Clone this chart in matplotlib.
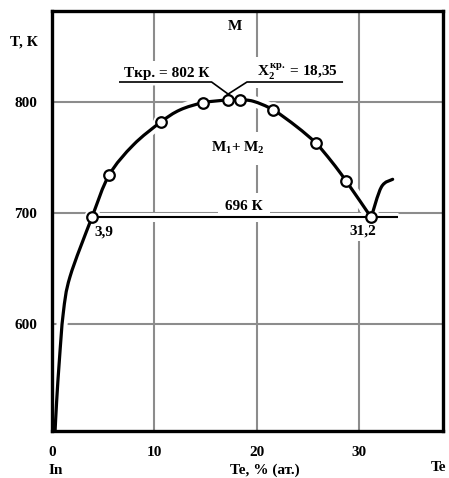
import numpy as np
import matplotlib
matplotlib.use("Agg")
import matplotlib.pyplot as plt
from matplotlib.path import Path
from matplotlib.patches import PathPatch

plt.rcParams["font.family"] = ["Liberation Serif", "DejaVu Serif"]
plt.rcParams["font.weight"] = "bold"
plt.rcParams["mathtext.fontset"] = "custom"
plt.rcParams["mathtext.rm"] = "Liberation Serif:bold"
plt.rcParams["mathtext.it"] = "Liberation Serif:bold"
plt.rcParams["mathtext.bf"] = "Liberation Serif:bold"

# --- In–Te: miscibility gap of the melt -------------------------------------
# experimental points (Te, at.%; T, K)
exp_te = [3.9, 5.57, 10.63, 14.79, 17.2, 18.35, 21.63, 25.8, 28.74, 31.2]
exp_t = [696, 734, 782, 799.5, 802, 802, 793, 763, 729, 696]

# traced boundary of the two-liquid region (M1 + M2)
dome_te = [0.30, 0.46, 0.72, 1.10, 1.76, 3.9, 5.57, 7.95, 10.63, 12.51,
           14.79, 17.2, 18.35, 19.68, 21.63, 23.92, 25.8, 27.34, 28.74, 31.2]
dome_t = [503, 531, 567, 609.5, 642.5, 696, 734, 761.4, 782, 793,
          799.5, 802, 802, 800.8, 793, 777.9, 763, 746.3, 729, 696]

# liquidus rising beyond the monotectic point
rise_te = [31.2, 32.2, 33.3]
rise_t = [696, 723.5, 730.4]

# monotectic horizontal
mono_te = [3.9, 33.8]
mono_t = 696
mono_label = "696 К"

t_crit = 802
x_crit = "18,35"
x_left = "3,9"
x_right = "31,2"

xticks = [0, 10, 20, 30]
yticks = [600, 700, 800]


def smooth(xs, ys):
    """Catmull-Rom curve through the given points as a cubic Bezier path."""
    p = np.column_stack([xs, ys]).astype(float)
    verts = [p[0]]
    codes = [Path.MOVETO]
    n = len(p)
    for i in range(n - 1):
        p0 = p[i - 1] if i > 0 else p[i]
        p1, p2 = p[i], p[i + 1]
        p3 = p[i + 2] if i + 2 < n else p[i + 1]
        verts += [p1 + (p2 - p0) / 6.0, p2 - (p3 - p1) / 6.0, p2]
        codes += [Path.CURVE4] * 3
    return Path(verts, codes)


fig = plt.figure(figsize=(4.49, 4.78), dpi=100)
ax = fig.add_axes([52 / 449, 1 - 431.3 / 478, 391.3 / 449, 420 / 478])
ax.set_xlim(0, 38.25)
ax.set_ylim(503, 882)

ax.set_xticks(xticks)
ax.set_xticklabels([str(v) for v in xticks])
ax.set_yticks(yticks)
ax.set_yticklabels([str(v) for v in yticks])
ax.tick_params(length=0, labelsize=11, pad=10.5)
for lab in ax.get_xticklabels() + ax.get_yticklabels():
    lab.set_fontweight("bold")
ax.grid(True, color="#8c8c8c", lw=1.5, zorder=0.5)
ax.set_axisbelow(True)
for s in ax.spines.values():
    s.set_linewidth(2.4)
    s.set_zorder(10)

HALO = "white"

# boundary curves: white halo first, black line on top
for xs, ys in ((dome_te, dome_t), (rise_te, rise_t)):
    path = smooth(xs, ys)
    ax.add_patch(PathPatch(path, fill=False, ec=HALO, lw=8, zorder=1.5,
                           capstyle="butt"))
    ax.add_patch(PathPatch(path, fill=False, ec="black", lw=2.3, zorder=3,
                           capstyle="round", joinstyle="round"))

# monotectic line
ax.plot(mono_te, [mono_t, mono_t], color=HALO, lw=6.5, zorder=1.5,
        solid_capstyle="butt")
ax.plot(mono_te, [mono_t, mono_t], color="black", lw=1.5, zorder=3,
        solid_capstyle="butt")

# experimental points
ax.plot(exp_te, exp_t, ls="none", marker="o", ms=11, mfc=HALO, mec=HALO,
        zorder=1.6)
ax.plot(exp_te, exp_t, ls="none", marker="o", ms=7.6, mfc="white",
        mec="black", mew=1.6, zorder=5)

# leader lines for the critical point
leaders = [
    ([6.55, 15.6, 17.56], [818.2, 818.2, 805.0]),
    ([28.45, 19.06, 17.08], [818.2, 818.2, 806.5]),
]
for lx, ly in leaders:
    ax.plot(lx, ly, color=HALO, lw=5, zorder=1.7, solid_capstyle="butt")
for lx, ly in leaders:
    ax.plot(lx, ly, color="black", lw=1.2, zorder=4, solid_capstyle="butt")

box = dict(fc="white", ec="none", pad=4)
fs = 11
ax.text(11.21, 823, f"Tкр. = {t_crit} К", fontsize=fs, ha="center",
        va="baseline", bbox=box, zorder=2)
ax.text(20.0, 823, r"$X_2^{кр.}$" + f" = {x_crit}", fontsize=fs, ha="left",
        va="baseline", bbox=box, zorder=2)
ax.text(17.9, 867.9, "M", fontsize=fs, ha="center", va="center",
        bbox=box, zorder=2)
ax.text(18.13, 755, r"$M_1$+ $M_2$", fontsize=fs, ha="center",
        va="baseline", bbox=dict(fc="white", ec="none", pad=6), zorder=2)
ax.text(18.77, 702.7, mono_label, fontsize=fs, ha="center", va="baseline",
        bbox=dict(fc="white", ec="none", pad=5), zorder=2)
ax.text(5.08, 680, x_left, fontsize=fs, ha="center", va="baseline",
        bbox=dict(fc="white", ec="none", pad=2), zorder=2)
ax.text(30.35, 681, x_right, fontsize=fs, ha="center", va="baseline",
        bbox=dict(fc="white", ec="none", pad=3), zorder=2)

# axis captions
fig.text(24 / 449, 1 - 46 / 478, "T, К", fontsize=fs, ha="center",
         va="baseline", fontweight="bold")
fig.text(56 / 449, 1 - 474 / 478, "In", fontsize=fs, ha="center",
         va="baseline", fontweight="bold")
fig.text(265 / 449, 1 - 474 / 478, "Te, % (ат.)", fontsize=fs, ha="center",
         va="baseline", fontweight="bold")
fig.text(431 / 449, 1 - 471 / 478, "Te", fontsize=fs, ha="left",
         va="baseline", fontweight="bold")

fig.savefig("out.png", dpi=100)
